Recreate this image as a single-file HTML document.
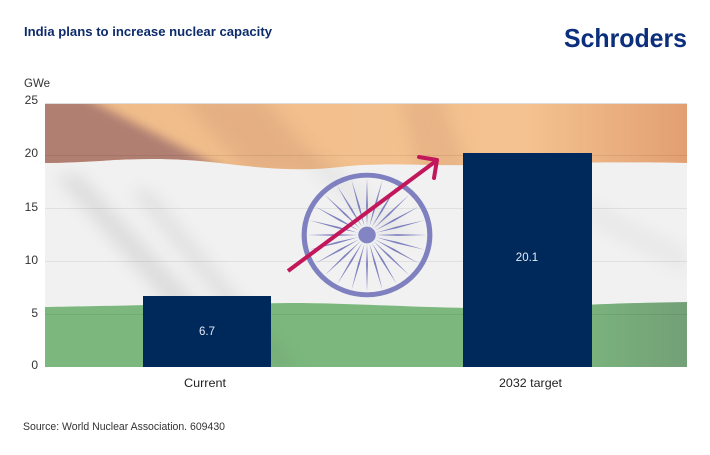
<!DOCTYPE html>
<html><head><meta charset="utf-8"><style>
html,body{margin:0;padding:0;background:#fff;}
svg{display:block;font-family:"Liberation Sans",sans-serif;}
</style></head><body>
<svg width="710" height="455" viewBox="0 0 710 455" xmlns="http://www.w3.org/2000/svg">
<defs>
<clipPath id="plot"><rect x="45" y="103" width="642" height="264"/></clipPath>
<clipPath id="orangeClip"><path d="M45,103 H687 V163 C640,162 560,162 470,165 C420,166 380,162 340,167 C300,172 260,168 220,163 C180,158 140,158 100,161 C80,162 60,163 45,163 Z"/></clipPath>
<filter id="b8" x="-50%" y="-50%" width="200%" height="200%"><feGaussianBlur stdDeviation="8"/></filter>
<filter id="b4" x="-50%" y="-50%" width="200%" height="200%"><feGaussianBlur stdDeviation="5"/></filter>
<linearGradient id="og" x1="0" x2="1" y1="0" y2="0">
<stop offset="0" stop-color="#efbb89"/><stop offset="0.75" stop-color="#f4c290"/><stop offset="1" stop-color="#e29f72"/>
</linearGradient>
<linearGradient id="gg" x1="0" x2="1" y1="0" y2="0">
<stop offset="0" stop-color="#7cb87d"/><stop offset="0.8" stop-color="#7cb87d"/><stop offset="1" stop-color="#73a077"/>
</linearGradient>
<path id="spoke" d="M0,-9 L0.9,-30 L0,-58 L-0.9,-30 Z" fill="#7f80bf"/>
<circle id="bump" cx="0" cy="-61" r="1.6" fill="#7f80bf"/>
</defs>

<text x="24" y="36" font-size="12.5" font-weight="bold" fill="#0d2b6b" textLength="248" lengthAdjust="spacingAndGlyphs">India plans to increase nuclear capacity</text>
<text x="564" y="47" font-size="26" font-weight="bold" fill="#0b2f7c" textLength="123" lengthAdjust="spacingAndGlyphs">Schroders</text>
<text x="24" y="87" font-size="12" fill="#333" textLength="26" lengthAdjust="spacingAndGlyphs">GWe</text>

<g clip-path="url(#plot)">
<rect x="45" y="103" width="642" height="264" fill="#f1f1f1"/>
<path d="M45,103 H687 V163 C640,162 560,162 470,165 C420,166 380,162 340,167 C300,172 260,168 220,163 C180,158 140,158 100,161 C80,162 60,163 45,163 Z" fill="url(#og)"/>
<g clip-path="url(#orangeClip)">
<polygon points="30,95 80,95 235,175 30,175" fill="#b07f72" filter="url(#b4)"/>
<polygon points="180,95 260,95 330,175 250,175" fill="#c99070" opacity="0.3" filter="url(#b8)"/>
<polygon points="400,95 440,95 470,175 420,175" fill="#c99070" opacity="0.25" filter="url(#b8)"/>
</g>
<path d="M45,307 C100,306 200,304 290,303 C350,303 400,307 470,308 C540,308 600,303 687,302 V367 H45 Z" fill="url(#gg)"/>
<polygon points="55,175 80,175 260,370 225,370" fill="#555" opacity="0.13" filter="url(#b8)"/>
<polygon points="130,190 150,190 300,370 275,370" fill="#555" opacity="0.1" filter="url(#b8)"/>
<polygon points="300,160 330,160 420,240 390,240" fill="#555" opacity="0.06" filter="url(#b8)"/>
<polygon points="590,200 687,250 687,275 590,225" fill="#555" opacity="0.05" filter="url(#b8)"/>
<g stroke="#000" stroke-opacity="0.07" stroke-width="1">
<line x1="45" x2="687" y1="155.5" y2="155.5"/>
<line x1="45" x2="687" y1="208.5" y2="208.5"/>
<line x1="45" x2="687" y1="261.5" y2="261.5"/>
<line x1="45" x2="687" y1="314.5" y2="314.5"/>
</g>
<line x1="45" x2="687" y1="103.5" y2="103.5" stroke="#ddd"/>
<g transform="translate(367,235) scale(1.03,0.98)">
<circle cx="0" cy="0" r="61" fill="none" stroke="#7f80bf" stroke-width="5"/>
<circle cx="0" cy="0" r="8.5" fill="#8384c3"/>
<use href="#spoke"/><use href="#spoke" transform="rotate(15)"/><use href="#spoke" transform="rotate(30)"/><use href="#spoke" transform="rotate(45)"/>
<use href="#spoke" transform="rotate(60)"/><use href="#spoke" transform="rotate(75)"/><use href="#spoke" transform="rotate(90)"/><use href="#spoke" transform="rotate(105)"/>
<use href="#spoke" transform="rotate(120)"/><use href="#spoke" transform="rotate(135)"/><use href="#spoke" transform="rotate(150)"/><use href="#spoke" transform="rotate(165)"/>
<use href="#spoke" transform="rotate(180)"/><use href="#spoke" transform="rotate(195)"/><use href="#spoke" transform="rotate(210)"/><use href="#spoke" transform="rotate(225)"/>
<use href="#spoke" transform="rotate(240)"/><use href="#spoke" transform="rotate(255)"/><use href="#spoke" transform="rotate(270)"/><use href="#spoke" transform="rotate(285)"/>
<use href="#spoke" transform="rotate(300)"/><use href="#spoke" transform="rotate(315)"/><use href="#spoke" transform="rotate(330)"/><use href="#spoke" transform="rotate(345)"/>
<use href="#bump" transform="rotate(7.5)"/><use href="#bump" transform="rotate(22.5)"/><use href="#bump" transform="rotate(37.5)"/><use href="#bump" transform="rotate(52.5)"/>
<use href="#bump" transform="rotate(67.5)"/><use href="#bump" transform="rotate(82.5)"/><use href="#bump" transform="rotate(97.5)"/><use href="#bump" transform="rotate(112.5)"/>
<use href="#bump" transform="rotate(127.5)"/><use href="#bump" transform="rotate(142.5)"/><use href="#bump" transform="rotate(157.5)"/><use href="#bump" transform="rotate(172.5)"/>
<use href="#bump" transform="rotate(187.5)"/><use href="#bump" transform="rotate(202.5)"/><use href="#bump" transform="rotate(217.5)"/><use href="#bump" transform="rotate(232.5)"/>
<use href="#bump" transform="rotate(247.5)"/><use href="#bump" transform="rotate(262.5)"/><use href="#bump" transform="rotate(277.5)"/><use href="#bump" transform="rotate(292.5)"/>
<use href="#bump" transform="rotate(307.5)"/><use href="#bump" transform="rotate(322.5)"/><use href="#bump" transform="rotate(337.5)"/><use href="#bump" transform="rotate(352.5)"/>
</g>
</g>

<line x1="288" y1="271" x2="436" y2="161" stroke="#c2185b" stroke-width="4"/>
<polyline points="419,157 437,160 434,178" fill="none" stroke="#c2185b" stroke-width="4" stroke-linejoin="round" stroke-linecap="round"/>

<rect x="143" y="296" width="128" height="71" fill="#00295b"/>
<rect x="463" y="153" width="129" height="214" fill="#00295b"/>
<text x="207" y="335" font-size="11.5" fill="#e6ebf3" text-anchor="middle">6.7</text>
<text x="527" y="261" font-size="11.5" fill="#e6ebf3" text-anchor="middle">20.1</text>

<g font-size="12" fill="#333" text-anchor="end">
<text x="38" y="104">25</text>
<text x="38" y="157">20</text>
<text x="38" y="211">15</text>
<text x="38" y="264">10</text>
<text x="38" y="317">5</text>
<text x="38" y="369">0</text>
</g>

<text x="205" y="387" font-size="12" fill="#222" text-anchor="middle" textLength="42" lengthAdjust="spacingAndGlyphs">Current</text>
<text x="530.5" y="387" font-size="12" fill="#222" text-anchor="middle" textLength="63" lengthAdjust="spacingAndGlyphs">2032 target</text>

<text x="23" y="430" font-size="11" fill="#333" textLength="202" lengthAdjust="spacingAndGlyphs">Source: World Nuclear Association. 609430</text>
</svg>
</body></html>
